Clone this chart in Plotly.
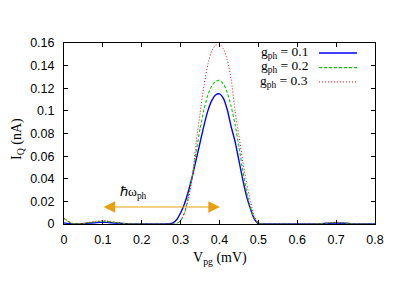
import plotly.graph_objects as go

# ---- data ----
vpg = [0.0, 0.01, 0.02, 0.03, 0.05, 0.07, 0.09, 0.10, 0.11, 0.13, 0.15, 0.17, 0.20, 0.24,
       0.26, 0.27, 0.28, 0.29, 0.30, 0.31, 0.32, 0.33, 0.34, 0.35, 0.36, 0.37, 0.38, 0.39,
       0.40, 0.41, 0.42, 0.43, 0.44, 0.45, 0.46, 0.47, 0.48, 0.49, 0.50, 0.51,
       0.55, 0.60, 0.64, 0.66, 0.68, 0.70, 0.72, 0.74, 0.76, 0.80]

iq_g01 = [0.001, 0.0004, 0.0001, 0.0, 0.0003, 0.0009, 0.0014, 0.0015, 0.0014, 0.0009, 0.0004, 0.0001, 0.0, 0.0,
          0.0, 0.0002, 0.001, 0.004, 0.010, 0.018, 0.029, 0.042, 0.057, 0.072, 0.087, 0.100, 0.109, 0.114,
          0.115, 0.111, 0.101, 0.086, 0.073, 0.056, 0.039, 0.024, 0.013, 0.004, 0.0003, 0.0,
          0.0, 0.0, 0.0, 0.0002, 0.0006, 0.0009, 0.0006, 0.0002, 0.0, 0.0]

iq_g02 = [0.005, 0.0025, 0.0008, 0.0002, 0.0005, 0.0014, 0.0022, 0.0024, 0.0022, 0.0014, 0.0006, 0.0002, 0.0, 0.0,
          0.0, 0.0, 0.0, 0.0005, 0.003, 0.010, 0.024, 0.042, 0.064, 0.084, 0.101, 0.114, 0.122, 0.126,
          0.127, 0.124, 0.116, 0.104, 0.088, 0.068, 0.047, 0.028, 0.014, 0.005, 0.001, 0.0,
          0.0, 0.0, 0.0, 0.0003, 0.0009, 0.0013, 0.0009, 0.0003, 0.0, 0.0]

iq_g03 = [0.005, 0.0025, 0.0008, 0.0002, 0.0006, 0.0017, 0.0027, 0.0030, 0.0027, 0.0017, 0.0007, 0.0002, 0.0, 0.0,
          0.0, 0.0, 0.0, 0.0, 0.003, 0.010, 0.022, 0.042, 0.072, 0.098, 0.122, 0.141, 0.153, 0.158,
          0.159, 0.155, 0.145, 0.128, 0.100, 0.078, 0.055, 0.036, 0.019, 0.007, 0.001, 0.0,
          0.0, 0.0, 0.0, 0.0003, 0.0010, 0.0015, 0.0010, 0.0003, 0.0, 0.0]

series_labels = ["g<sub>ph</sub> = 0.1", "g<sub>ph</sub> = 0.2", "g<sub>ph</sub> = 0.3"]
x_ticks = [0, 0.1, 0.2, 0.3, 0.4, 0.5, 0.6, 0.7, 0.8]
y_ticks = [0, 0.02, 0.04, 0.06, 0.08, 0.10, 0.12, 0.14, 0.16]
arrow_x = (0.098, 0.401)
arrow_y = 0.015
arrow_label = "ℏω<sub>ph</sub>"

# ---- styles ----
colors = ["#0000ff", "#00cc00", "#ff0000"]
dashes = ["solid", "3px,2px", "1px,2px"]
widths = [1.4, 1.1, 1.0]
serif = "Liberation Serif"
sans = "Liberation Sans"

fig = go.Figure()
for ys, c, d, w, name in zip([iq_g01, iq_g02, iq_g03], colors, dashes, widths, series_labels):
    fig.add_trace(go.Scatter(x=vpg, y=ys, mode="lines", name=name,
                             line=dict(color=c, dash=d, width=w, shape="spline", smoothing=0.6),
                             showlegend=False))

# double-headed arrow
fig.add_annotation(x=arrow_x[1], y=arrow_y, ax=arrow_x[0], ay=arrow_y,
                   xref="x", yref="y", axref="x", ayref="y",
                   showarrow=True, arrowside="end+start", arrowhead=2,
                   arrowsize=2.1, arrowwidth=1.1, arrowcolor="#e6a010", text="")
fig.add_annotation(x=0.138, y=0.0275, xref="x", yref="y", text=arrow_label,
                   showarrow=False, xanchor="left", yanchor="middle",
                   font=dict(family=serif, size=13.5, color="black"))

# manual legend (text left, sample line right)
leg_y = [0.950, 0.869, 0.790]
for lab, c, d, w, yy in zip(series_labels, colors, dashes, widths, leg_y):
    fig.add_annotation(x=0.791, y=yy, xref="paper", yref="paper", text=lab,
                       showarrow=False, xanchor="right", yanchor="middle",
                       font=dict(family=serif, size=13.5, color="black"))
    fig.add_shape(type="line", xref="paper", yref="paper", x0=0.820, x1=0.942,
                  y0=yy - 0.005, y1=yy - 0.005, line=dict(color=c, dash=d, width=w))

# axis titles
fig.add_annotation(x=-0.148, y=0.47, xref="paper", yref="paper", text="I<sub>Q</sub> (nA)",
                   textangle=-90, showarrow=False, xanchor="center", yanchor="middle",
                   font=dict(family=serif, size=14, color="black"))
fig.add_annotation(x=0.5, y=-0.188, xref="paper", yref="paper", text="V<sub>pg</sub> (mV)",
                   showarrow=False, xanchor="center", yanchor="middle",
                   font=dict(family=serif, size=14, color="black"))

axis_common = dict(showgrid=False, zeroline=False, showline=True, linecolor="black",
                   linewidth=1, mirror="ticks", ticks="inside", ticklen=4,
                   tickcolor="black", tickwidth=1,
                   tickfont=dict(family=sans, size=12.5, color="black"))
fig.update_xaxes(range=[0, 0.8], tickvals=x_ticks, ticktext=[f"{v:g}" for v in x_ticks],
                 ticklabelstandoff=4, **axis_common)
fig.update_yaxes(range=[0, 0.16], tickvals=y_ticks, ticktext=[f"{v:g}" for v in y_ticks],
                 ticklabelstandoff=6, **axis_common)

fig.update_layout(width=407, height=285, margin=dict(l=64, r=32, t=43, b=61),
                  plot_bgcolor="white", paper_bgcolor="white")

fig.write_html("out.html", config={"displayModeBar": False},
               post_script="document.body.style.margin='0';")
